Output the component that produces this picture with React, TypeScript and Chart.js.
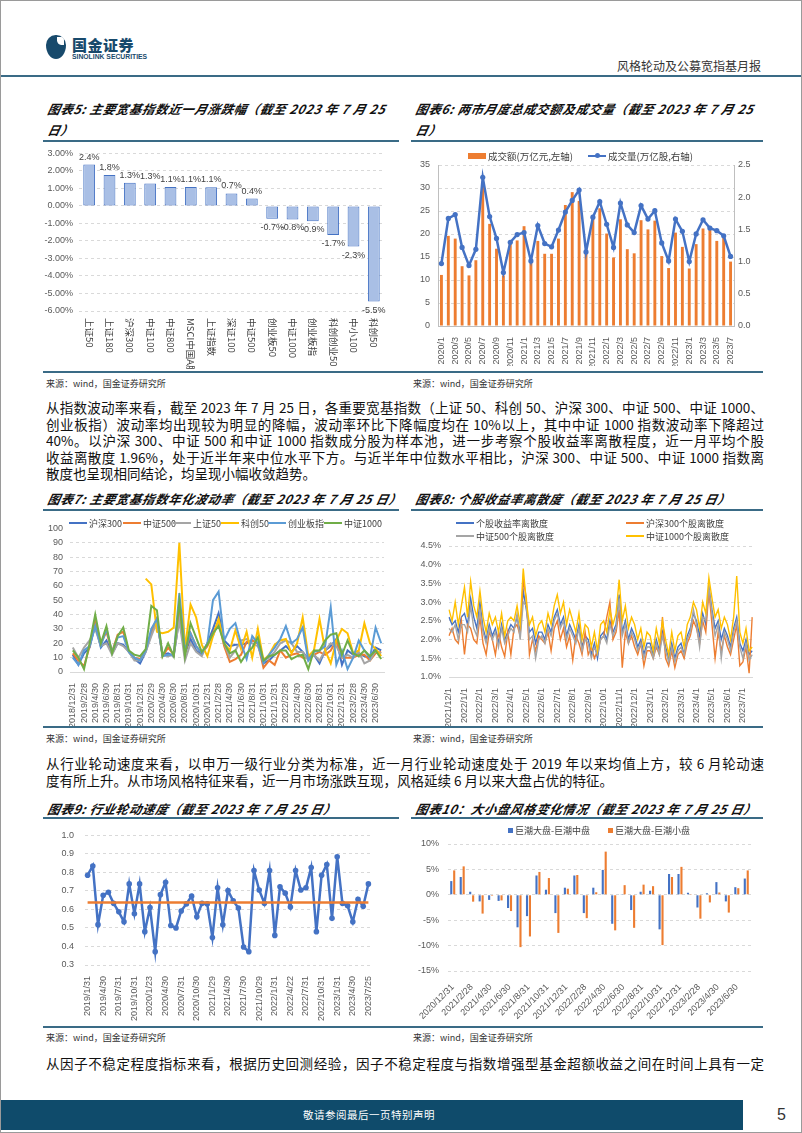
import React, { useEffect, useRef } from 'react';
import { Chart, registerables } from 'chart.js';

Chart.register(...registerables);

const SANS = '"Noto Sans CJK SC", "Liberation Sans", sans-serif';
const NUM = '"Liberation Sans", "Noto Sans CJK SC", sans-serif';
const TEAL = '#3a6b86';
const NAVY = '#184a6c';
const GRID = '#d9d9d9';
const TICK = '#595959';

Chart.defaults.font.family = NUM;
Chart.defaults.color = TICK;

// ---------------- 图表5 ----------------
const c5Categories = ['上证50', '上证180', '沪深300', '中证100', '中证800', 'MSCI中国A股', '上证指数', '深证100', '中证500', '创业板50', '中证1000', '创业板指', '科创创业50', '中小100', '科创50'];
const c5Changes = [2.36, 1.77, 1.33, 1.28, 1.08, 1.08, 1.06, 0.71, 0.42, -0.73, -0.77, -0.87, -1.66, -2.32, -5.46];

// ---------------- 图表6 ----------------
const c6Months = [
  '2020/1', '2020/2', '2020/3', '2020/4', '2020/5', '2020/6', '2020/7', '2020/8', '2020/9', '2020/10', '2020/11', '2020/12',
  '2021/1', '2021/2', '2021/3', '2021/4', '2021/5', '2021/6', '2021/7', '2021/8', '2021/9', '2021/10', '2021/11', '2021/12',
  '2022/1', '2022/2', '2022/3', '2022/4', '2022/5', '2022/6', '2022/7', '2022/8', '2022/9', '2022/10', '2022/11', '2022/12',
  '2023/1', '2023/2', '2023/3', '2023/4', '2023/5', '2023/6', '2023/7',
];
const c6Turnover = [11.1, 19.6, 19.0, 13.0, 11.0, 14.3, 30.5, 22.2, 16.8, 11.0, 17.8, 18.6, 21.7, 13.8, 18.5, 15.7, 15.7, 19.0, 26.3, 29.1, 27.2, 15.9, 24.0, 25.6, 20.1, 14.9, 23.2, 16.7, 15.8, 23.0, 21.0, 22.9, 15.2, 12.6, 20.3, 17.2, 12.5, 17.8, 21.2, 21.0, 18.5, 19.2, 14.0];
const c6Volume = [0.97, 1.67, 1.73, 1.22, 0.94, 1.19, 2.31, 1.70, 1.36, 0.83, 1.30, 1.42, 1.45, 1.01, 1.56, 1.28, 1.23, 1.49, 1.77, 1.95, 2.11, 1.15, 1.69, 1.93, 1.58, 1.22, 1.91, 1.57, 1.45, 1.87, 1.66, 1.79, 1.29, 1.01, 1.66, 1.47, 1.00, 1.43, 1.65, 1.52, 1.48, 1.40, 1.08];

// ---------------- 图表7 ----------------
const c7Dates = [
  '2018/12/31',
  '2019/1/31', '2019/2/28', '2019/3/31', '2019/4/30', '2019/5/31', '2019/6/30', '2019/7/31', '2019/8/31', '2019/9/30', '2019/10/31', '2019/11/30', '2019/12/31',
  '2020/1/31', '2020/2/29', '2020/3/31', '2020/4/30', '2020/5/31', '2020/6/30', '2020/7/31', '2020/8/31', '2020/9/30', '2020/10/31', '2020/11/30', '2020/12/31',
  '2021/1/31', '2021/2/28', '2021/3/31', '2021/4/30', '2021/5/31', '2021/6/30', '2021/7/31', '2021/8/31', '2021/9/30', '2021/10/31', '2021/11/30', '2021/12/31',
  '2022/1/31', '2022/2/28', '2022/3/31', '2022/4/30', '2022/5/31', '2022/6/30', '2022/7/31', '2022/8/31', '2022/9/30', '2022/10/31', '2022/11/30', '2022/12/31',
  '2023/1/31', '2023/2/28', '2023/3/31', '2023/4/30', '2023/5/31', '2023/6/30', '2023/7/25',
];
const c7Hs300 = [12, 5, 13, 17, 33, 17, 22, 13, 20, 19, 14, 9, 6, 14, 27, 37, 12, 13, 11, 38, 13, 23, 15, 12, 20, 30, 41, 22, 18, 19, 19, 20, 22, 20, 6, 8, 12, 15, 18, 14, 18, 14, 9, 12, 6, 15, 18, 23, 5, 15, 12, 13, 11, 10, 17, 15];
const c7Zz500 = [13, 8, 4, 18, 36, 20, 28, 14, 26, 28, 14, 10, 9, 15, 28, 37, 11, 17, 12, 45, 13, 27, 18, 13, 18, 27, 35, 18, 7, 9, 12, 21, 22, 20, 3, 8, 5, 15, 10, 12, 13, 10, 10, 12, 14, 12, 15, 22, 10, 10, 10, 12, 12, 8, 13, 14];
const c7Sz50 = [17, 10, 17, 22, 30, 18, 20, 12, 20, 18, 14, 8, 8, 14, 25, 35, 12, 11, 12, 36, 8, 20, 14, 11, 20, 25, 35, 20, 10, 15, 22, 23, 20, 18, 8, 10, 14, 20, 22, 20, 14, 14, 8, 12, 8, 15, 20, 18, 10, 12, 10, 14, 6, 8, 15, 13];
const c7Kc50 = [null, null, null, null, null, null, null, null, null, null, null, null, null,
  65, 61, 28, 27, 28, 31, 90, 16, 47, 38, 19, 11, 25, 37, 20, 15, 29, 16, 28, 10, 30, 8, 12, 19, 22, 23, 13, 20, 38, 11, 15, 37, 15, 6, 22, 30, 27, 13, 15, 34, 20, 16, 11];
const c7Cyb = [10, 5, 15, 18, 32, 18, 30, 14, 24, 25, 14, 10, 8, 15, 30, 37, 11, 12, 12, 55, 15, 27, 18, 13, 20, 50, 56, 22, 30, 34, 20, 9, 25, 20, 6, 12, 17, 23, 32, 20, 23, 31, 8, 14, 15, 18, 45, 5, 15, 2, 10, 22, 15, 10, 31, 20];
const c7Zz1000 = [15, 10, 2, 20, 40, 20, 32, 13, 25, 31, 15, 12, 11, 16, 46, 43, 11, 20, 11, 49, 11, 34, 24, 14, 19, 27, 32, 20, 13, 15, 7, 13, 17, 24, 8, 11, 12, 15, 15, 9, 11, 12, 2, 15, 15, 22, 26, 27, 12, 22, 13, 11, 15, 11, 15, 9];
const c7Names = ['沪深300', '中证500', '上证50', '科创50', '创业板指', '中证1000'];
const c7Colors = ['#4472c4', '#ed7d31', '#a5a5a5', '#ffc000', '#5b9bd5', '#70ad47'];

// ---------------- 图表8 ----------------
const c8MonthTicks = ['2021/12/1', '2022/1/1', '2022/2/1', '2022/3/1', '2022/4/1', '2022/5/1', '2022/6/1', '2022/7/1', '2022/8/1', '2022/9/1', '2022/10/1', '2022/11/1', '2022/12/1', '2023/1/1', '2023/2/1', '2023/3/1', '2023/4/1', '2023/5/1', '2023/6/1', '2023/7/1'];
const c8SamplesPerMonth = [5, 5, 5, 5, 5, 5, 5, 5, 5, 5, 5, 5, 5, 5, 5, 5, 5, 5, 5, 4];
const c8All = [
  2.6, 2.4, 2.5, 2.2, 2.6, 2.7, 2.4, 3.1, 2.6, 2.3, 3.0, 2.3, 2.0, 2.4, 2.1, 2.3, 1.9, 2.4, 2.0, 2.2,
  2.4, 2.3, 2.6, 2.2, 3.3, 2.8, 2.2, 2.3, 1.9, 2.2, 2.2, 2.0, 2.4, 2.2, 2.6, 2.8, 2.4, 2.6, 2.1, 2.4,
  2.2, 2.0, 2.4, 1.8, 2.1, 2.0, 1.6, 1.9, 1.5, 2.1, 2.2, 2.0, 2.5, 2.2, 2.4, 3.2, 2.2, 2.5, 2.0, 2.3,
  2.1, 1.8, 2.0, 1.6, 1.9, 1.9, 1.6, 2.0, 1.7, 2.2, 1.8, 1.5, 1.9, 1.5, 1.8, 1.9, 1.6, 2.1, 2.3, 2.7,
  2.5, 2.1, 2.7, 2.4, 3.4, 2.8, 2.3, 2.5, 2.0, 2.3, 2.1, 1.8, 2.3, 2.6, 1.9, 1.7, 2.0, 1.6, 1.7,
];
const c8Hs300 = [
  2.1, 2.3, 2.0, 1.9, 2.5, 1.6, 2.4, 2.3, 2.0, 1.9, 2.6, 1.9, 1.6, 2.2, 2.0, 1.6, 2.2, 1.8, 1.55, 2.2,
  1.6, 2.3, 2.4, 2.1, 3.6, 3.1, 1.6, 2.0, 1.7, 2.1, 2.0, 1.9, 2.2, 1.7, 2.3, 2.5, 2.0, 2.3, 1.8, 2.1,
  1.45, 2.1, 1.9, 1.6, 2.2, 1.6, 1.8, 1.5, 1.7, 2.0, 2.1, 2.6, 3.0, 2.0, 2.2, 2.8, 1.25, 2.2, 1.9, 2.1,
  1.8, 1.6, 1.9, 1.3, 1.7, 1.7, 1.5, 1.8, 1.6, 2.6, 1.5, 1.3, 1.7, 1.25, 1.6, 1.7, 1.5, 1.9, 2.1, 2.5,
  2.3, 1.9, 2.5, 2.2, 3.3, 2.4, 1.5, 2.2, 1.7, 2.1, 1.8, 1.6, 2.0, 2.4, 1.3, 1.4, 1.8, 1.1, 2.6,
];
const c8Zz500 = [
  2.3, 2.2, 2.4, 2.0, 2.4, 2.4, 2.2, 2.9, 2.3, 2.1, 2.8, 2.2, 1.9, 2.3, 2.0, 2.2, 1.8, 2.3, 1.9, 2.1,
  2.3, 2.2, 2.7, 2.0, 3.0, 2.9, 2.0, 2.1, 1.5, 2.0, 2.1, 1.9, 2.3, 2.1, 2.5, 2.7, 2.3, 2.5, 2.0, 2.3,
  2.1, 1.9, 2.3, 1.7, 2.0, 1.9, 1.5, 1.8, 1.6, 2.0, 2.1, 1.9, 2.4, 2.1, 2.3, 3.1, 2.1, 2.4, 1.9, 2.2,
  2.0, 1.7, 1.9, 1.5, 1.8, 1.8, 1.5, 1.9, 1.6, 2.1, 1.7, 1.4, 1.8, 1.4, 1.7, 1.8, 1.6, 2.0, 2.2, 2.8,
  2.4, 1.8, 2.6, 2.5, 3.4, 2.7, 2.1, 2.4, 1.5, 2.2, 2.0, 1.7, 2.2, 2.5, 1.8, 1.5, 1.9, 1.45, 1.6,
];
const c8Zz1000 = [
  2.8, 2.5, 3.0, 2.4, 2.9, 3.4, 2.6, 3.55, 2.9, 2.6, 3.3, 2.6, 2.2, 2.7, 2.4, 2.6, 2.2, 2.7, 2.1, 2.5,
  2.6, 2.5, 2.9, 2.4, 3.9, 3.0, 2.4, 2.6, 2.1, 2.4, 2.5, 2.2, 2.7, 2.4, 2.9, 3.2, 2.7, 3.0, 2.4, 2.8,
  2.5, 2.2, 2.7, 2.0, 2.4, 2.3, 1.8, 2.2, 1.7, 2.4, 2.5, 2.2, 2.8, 2.4, 2.7, 3.6, 2.5, 2.9, 2.3, 2.6,
  2.4, 2.0, 2.3, 1.8, 2.2, 2.1, 1.7, 2.3, 1.9, 2.5, 2.0, 1.6, 2.2, 1.7, 2.1, 2.2, 1.8, 2.4, 2.6, 3.0,
  2.8, 2.3, 3.0, 2.7, 3.65, 3.1, 2.6, 2.8, 2.3, 2.6, 2.4, 2.0, 2.6, 3.7, 2.2, 1.9, 2.3, 1.7, 1.8,
];
const c8Names = ['个股收益率离散度', '沪深300个股离散度', '中证500个股离散度', '中证1000个股离散度'];
const c8Colors = ['#4472c4', '#ed7d31', '#a5a5a5', '#ffc000'];

// ---------------- 图表9 ----------------
const c9Dates = [
  '2019/1/31', '2019/2/28', '2019/3/29', '2019/4/30', '2019/5/31', '2019/6/28', '2019/7/31', '2019/8/30', '2019/9/30', '2019/10/31', '2019/11/29', '2019/12/31',
  '2020/1/23', '2020/2/28', '2020/3/31', '2020/4/30', '2020/5/29', '2020/6/30', '2020/7/31', '2020/8/31', '2020/9/30', '2020/10/30', '2020/11/30', '2020/12/31',
  '2021/1/29', '2021/2/26', '2021/3/31', '2021/4/30', '2021/5/31', '2021/6/30', '2021/7/30', '2021/8/31', '2021/9/30', '2021/10/29', '2021/11/30', '2021/12/31',
  '2022/1/31', '2022/2/28', '2022/3/31', '2022/4/22', '2022/5/31', '2022/6/30', '2022/7/31', '2022/8/31', '2022/9/30', '2022/10/31', '2022/11/30', '2022/12/30',
  '2023/1/31', '2023/2/28', '2023/3/31', '2023/4/30', '2023/5/31', '2023/6/30', '2023/7/25',
];
const c9Speed = [0.785, 0.835, 0.518, 0.677, 0.693, 0.633, 0.587, 0.533, 0.738, 0.577, 0.738, 0.48, 0.61, 0.372, 0.68, 0.747, 0.513, 0.5, 0.592, 0.63, 0.672, 0.56, 0.633, 0.63, 0.448, 0.717, 0.517, 0.702, 0.647, 0.608, 0.397, 0.372, 0.81, 0.705, 0.633, 0.81, 0.46, 0.722, 0.688, 0.613, 0.81, 0.705, 0.717, 0.827, 0.48, 0.785, 0.843, 0.552, 0.885, 0.633, 0.62, 0.533, 0.655, 0.617, 0.738];
const c9Mean = 0.638;

// ---------------- 图表10 ----------------
const c10Dates = [
  '2020/12/31', '2021/1/31', '2021/2/28', '2021/3/31', '2021/4/30', '2021/5/31', '2021/6/30', '2021/7/31', '2021/8/31', '2021/9/30', '2021/10/31', '2021/11/30', '2021/12/31',
  '2022/1/31', '2022/2/28', '2022/3/31', '2022/4/30', '2022/5/31', '2022/6/30', '2022/7/31', '2022/8/31', '2022/9/30', '2022/10/31', '2022/11/30', '2022/12/31',
  '2023/1/31', '2023/2/28', '2023/3/31', '2023/4/30', '2023/5/31', '2023/6/30', '2023/7/25',
];
const c10LargeMid = [2.7, 3.5, 0.6, -1.3, -1.0, -1.2, -2.6, -6.4, -4.2, 3.8, 1.0, -3.6, 1.4, 3.8, -3.6, 1.4, 4.9, -5.7, 0.05, -3.0, 0.6, 0.8, -6.8, 4.1, 4.1, 0.4, -2.5, 0.3, 2.5, -1.3, 1.5, 3.2];
const c10LargeSmall = [4.8, 5.6, -1.35, -3.7, -0.2, -1.1, -3.2, -10.3, -8.2, 4.5, 3.3, -7.5, 1.2, 3.9, -4.6, 0.5, 8.5, -7.0, 1.9, -6.5, 2.0, 1.7, -9.9, 3.5, 5.5, 0.05, -4.7, -1.5, 0.45, -3.5, 1.3, 4.8];

// ---------------- 文本 ----------------
const para1 = [
  '从指数波动率来看，截至 2023 年 7 月 25 日，各重要宽基指数（上证 50、科创 50、沪深 300、中证 500、中证 1000、',
  '创业板指）波动率均出现较为明显的降幅，波动率环比下降幅度均在 10%以上，其中中证 1000 指数波动率下降超过',
  '40%。以沪深 300、中证 500 和中证 1000 指数成分股为样本池，进一步考察个股收益率离散程度，近一月平均个股',
  '收益离散度 1.96%，处于近半年来中位水平下方。与近半年中位数水平相比，沪深 300、中证 500、中证 1000 指数离',
  '散度也呈现相同结论，均呈现小幅收敛趋势。',
];
const para2 = [
  '从行业轮动速度来看，以申万一级行业分类为标准，近一月行业轮动速度处于 2019 年以来均值上方，较 6 月轮动速',
  '度有所上升。从市场风格特征来看，近一月市场涨跌互现，风格延续 6 月以来大盘占优的特征。',
];
const para3 = ['从因子不稳定程度指标来看，根据历史回测经验，因子不稳定程度与指数增强型基金超额收益之间在时间上具有一定'];
const SOURCE = '来源：wind，国金证券研究所';

// ---------------- helpers ----------------
const baseOptions = (padding: any) => ({
  responsive: false,
  animation: false as const,
  devicePixelRatio: 1,
  layout: { padding },
  plugins: { legend: { display: false }, tooltip: { enabled: false } },
});

const fixW = (w: number) => (s: any) => { s.width = w; };
const fixH = (h: number) => (s: any) => { s.height = h; };

const yDashed = (o: any) => ({
  grid: { color: GRID, drawTicks: false, lineWidth: 1 },
  border: { display: false, dash: [3, 3] },
  ...o,
  ticks: { color: TICK, font: { size: 9, family: NUM }, padding: 7, ...(o.ticks || {}) },
});

const xDates = (labels: string[], every: number, h: number, rot: number, extra: any = {}) => ({
  grid: { display: false },
  border: { display: false },
  afterFit: fixH(h),
  ...extra,
  ticks: {
    autoSkip: false,
    minRotation: rot,
    maxRotation: rot,
    padding: 3,
    color: TICK,
    font: { size: 9, family: NUM },
    callback: (_v: any, i: number) => (i % every === 0 ? labels[i] : ''),
  },
});

function ChartBox({ x, y, w, h, config }: { x: number; y: number; w: number; h: number; config: () => any }) {
  const ref = useRef<HTMLCanvasElement | null>(null);
  useEffect(() => {
    if (!ref.current) return;
    const chart = new Chart(ref.current, config());
    return () => chart.destroy();
  }, []);
  return (
    <div style={{ position: 'absolute', left: x, top: y, width: w, height: h, overflow: 'hidden' }}>
      <canvas ref={ref} width={w} height={h} style={{ display: 'block', width: w, height: h }} />
    </div>
  );
}

// ---------------- chart configs ----------------
const c5Plugin = {
  id: 'c5labels',
  afterDatasetsDraw(chart: any) {
    const ctx = chart.ctx;
    const meta = chart.getDatasetMeta(0);
    const vals = chart.data.datasets[0].data as number[];
    ctx.save();
    ctx.font = `9px ${NUM}`;
    ctx.fillStyle = '#404040';
    ctx.textAlign = 'center';
    meta.data.forEach((bar: any, i: number) => {
      const v = vals[i];
      const t = v.toFixed(1) + '%';
      if (v >= 0) {
        ctx.textBaseline = 'bottom';
        ctx.fillText(t, bar.x, bar.y - 3);
      } else {
        ctx.textBaseline = 'top';
        ctx.fillText(t, bar.x, bar.y + 4);
      }
    });
    const xs = chart.scales.x;
    ctx.font = `9.5px ${SANS}`;
    ctx.fillStyle = '#404040';
    ctx.textAlign = 'left';
    ctx.textBaseline = 'middle';
    (chart.data.labels as string[]).forEach((lab, i) => {
      const px = xs.getPixelForValue(i);
      ctx.save();
      ctx.translate(px, chart.chartArea.bottom + 7);
      ctx.rotate(Math.PI / 2);
      ctx.fillText(lab, 0, 0);
      ctx.restore();
    });
    ctx.restore();
  },
};

const c5Config = () => ({
  type: 'bar',
  data: {
    labels: c5Categories,
    datasets: [{
      data: c5Changes,
      backgroundColor: '#a9bfe5',
      borderColor: '#4472c4',
      borderWidth: 1,
      borderSkipped: false,
      barPercentage: 0.58,
      categoryPercentage: 1,
    }],
  },
  options: {
    ...baseOptions({ top: 7, right: 15, left: 0, bottom: 0 }),
    scales: {
      x: { grid: { display: false }, border: { display: false }, ticks: { display: false }, afterFit: fixH(58) },
      y: yDashed({
        min: -6, max: 3, afterFit: fixW(36),
        ticks: { stepSize: 1, padding: 6, callback: (v: any) => Number(v).toFixed(2) + '%' },
      }),
    },
  },
  plugins: [c5Plugin],
});

const c6Config = () => ({
  type: 'bar',
  data: {
    labels: c6Months,
    datasets: [
      {
        type: 'line', label: '成交量(万亿股,右轴)', data: c6Volume, yAxisID: 'y1',
        borderColor: '#4472c4', backgroundColor: '#4472c4', borderWidth: 2.5,
        pointRadius: 2.6, pointBorderWidth: 0, pointBackgroundColor: '#4472c4', tension: 0, order: 0,
      },
      {
        type: 'bar', label: '成交额(万亿元,左轴)', data: c6Turnover, yAxisID: 'y',
        backgroundColor: '#ed7d31', barPercentage: 0.42, categoryPercentage: 1, order: 1,
      },
    ],
  },
  options: {
    ...baseOptions({ top: 21, right: 0, left: 0, bottom: 0 }),
    scales: {
      x: xDates(c6Months, 2, 40, 90, { offset: true, border: { display: true, color: '#bfbfbf' } }),
      y: yDashed({
        position: 'left', min: 0, max: 35, afterFit: fixW(32),
        border: { display: true, color: '#bfbfbf', dash: [3, 3] },
        ticks: { stepSize: 5, padding: 8 },
      }),
      y1: {
        position: 'right', min: 0, max: 2.5, afterFit: fixW(32),
        grid: { display: false, drawTicks: false },
        border: { display: true, color: '#bfbfbf' },
        ticks: { stepSize: 0.5, padding: 4, color: TICK, font: { size: 9, family: NUM }, callback: (v: any) => Number(v).toFixed(1) },
      },
    },
  },
});

const c7Config = () => {
  const series = [c7Hs300, c7Zz500, c7Sz50, c7Kc50, c7Cyb, c7Zz1000];
  return {
    type: 'line',
    data: {
      labels: c7Dates,
      datasets: series.map((d, i) => ({
        label: c7Names[i], data: d, borderColor: c7Colors[i], backgroundColor: c7Colors[i],
        borderWidth: 2, pointRadius: 0, tension: 0, spanGaps: false, order: -i,
      })),
    },
    options: {
      ...baseOptions({ top: 7, right: 15, left: 0, bottom: 0 }),
      scales: {
        x: xDates(c7Dates, 2, 54, 90, { offset: true, border: { display: true, color: GRID } }),
        y: yDashed({ min: 0, max: 100, afterFit: fixW(27), ticks: { stepSize: 10, padding: 7 } }),
      },
    },
  };
};

const c8Labels: string[] = [];
c8MonthTicks.forEach((m, i) => {
  for (let k = 0; k < c8SamplesPerMonth[i]; k++) c8Labels.push(k === 0 ? m : '');
});

const c8Config = () => {
  const series = [c8All, c8Hs300, c8Zz500, c8Zz1000];
  return {
    type: 'line',
    data: {
      labels: c8Labels,
      datasets: series.map((d, i) => ({
        label: c8Names[i], data: d, borderColor: c8Colors[i], backgroundColor: c8Colors[i],
        borderWidth: 1.4, pointRadius: 0, tension: 0, order: -i,
      })),
    },
    options: {
      ...baseOptions({ top: 30, right: 13, left: 0, bottom: 0 }),
      scales: {
        x: xDates(c8Labels, 1, 49, 90, { offset: false, border: { display: true, color: GRID } }),
        y: yDashed({ min: 1, max: 4.5, afterFit: fixW(43), ticks: { stepSize: 0.5, padding: 8, callback: (v: any) => Number(v).toFixed(1) + '%' } }),
      },
    },
  };
};

const c9Config = () => ({
  type: 'line',
  data: {
    labels: c9Dates,
    datasets: [
      {
        label: '行业轮动速度', data: c9Speed, borderColor: '#4472c4', backgroundColor: '#4472c4',
        borderWidth: 2.5, pointRadius: 2.8, pointBorderWidth: 0, pointBackgroundColor: '#4472c4', tension: 0, order: 1,
      },
      {
        label: '均值', data: c9Dates.map(() => c9Mean), borderColor: '#ed7d31',
        borderWidth: 2.5, pointRadius: 0, tension: 0, order: 0,
      },
    ],
  },
  options: {
    ...baseOptions({ top: 8, right: 28, left: 0, bottom: 0 }),
    scales: {
      x: xDates(c9Dates, 3, 60, 90, { offset: true, border: { display: false } }),
      y: yDashed({ min: 0.3, max: 1.0, afterFit: fixW(42), ticks: { stepSize: 0.1, padding: 11, callback: (v: any) => Number(v).toFixed(1) } }),
    },
  },
});

const c10Config = () => ({
  type: 'bar',
  data: {
    labels: c10Dates,
    datasets: [
      { label: '巨潮大盘-巨潮中盘', data: c10LargeMid, backgroundColor: '#4472c4', barPercentage: 0.72, categoryPercentage: 0.62 },
      { label: '巨潮大盘-巨潮小盘', data: c10LargeSmall, backgroundColor: '#ed7d31', barPercentage: 0.72, categoryPercentage: 0.62 },
    ],
  },
  options: {
    ...baseOptions({ top: 25, right: 15, left: 0, bottom: 0 }),
    scales: {
      x: xDates(c10Dates, 2, 54, 45, { offset: true }),
      y: yDashed({ min: -15, max: 10, afterFit: fixW(42), ticks: { stepSize: 5, padding: 9, callback: (v: any) => `${v}%` } }),
    },
  },
});

// ---------------- layout pieces ----------------
function Text({ x, y, size, children, style }: any) {
  const lh = Math.round(size * 1.35);
  return (
    <div style={{ position: 'absolute', left: x, top: y - lh / 2, fontSize: size, lineHeight: `${lh}px`, whiteSpace: 'nowrap', fontFamily: SANS, ...(style || {}) }}>
      {children}
    </div>
  );
}

function Title({ x, y, children }: any) {
  return (
    <Text x={x} y={y} size={12.5} style={{ fontWeight: 700, fontStyle: 'italic', letterSpacing: '0.6px', color: '#111', transform: 'skewX(-12deg)', transformOrigin: 'left bottom' }}>
      {children}
    </Text>
  );
}

function Rule({ x, y, w, h = 1.5, color = TEAL }: any) {
  return <div style={{ position: 'absolute', left: x, top: y, width: w, height: h, background: color }} />;
}

function JLine({ y, text, last }: any) {
  return (
    <div style={{
      position: 'absolute', left: 45, width: 718, top: y - 9, height: 18, lineHeight: '18px',
      fontSize: 13.5, fontFamily: SANS, color: '#111', textAlign: 'justify',
      textAlignLast: last ? 'left' : 'justify', overflow: 'hidden',
    } as any}>
      {text}
    </div>
  );
}

function LegendItem({ x, y, color, label, kind, size = 9 }: any) {
  let sw: any;
  if (kind === 'rect') sw = <div style={{ width: 18, height: 6, background: color }} />;
  else if (kind === 'square') sw = <div style={{ width: 5, height: 5, background: color }} />;
  else if (kind === 'dot') {
    sw = (
      <div style={{ position: 'relative', width: 18, height: 2.5, background: color }}>
        <div style={{ position: 'absolute', left: 6.5, top: -1.75, width: 5, height: 5, borderRadius: '50%', background: color }} />
      </div>
    );
  } else sw = <div style={{ width: 18, height: 2, background: color }} />;
  return (
    <div style={{ position: 'absolute', left: x, top: y - 7, height: 14, display: 'flex', alignItems: 'center', whiteSpace: 'nowrap', fontFamily: SANS, fontSize: size, color: '#404040' }}>
      {sw}
      <span style={{ marginLeft: 2 }}>{label}</span>
    </div>
  );
}

function Logo() {
  return (
    <>
      <div style={{ position: 'absolute', left: 45, top: 34, width: 20, height: 24, background: NAVY, borderRadius: '48% 48% 50% 50% / 42% 42% 58% 58%' }} />
      <div style={{ position: 'absolute', left: 56, top: 36, width: 7, height: 8, background: '#fff', borderRadius: '0 40% 0 60%' }} />
      <Text x={71} y={44} size={15} style={{ fontWeight: 900, color: NAVY, letterSpacing: '0.5px' }}>国金证券</Text>
      <Text x={71} y={55} size={6.8} style={{ fontFamily: NUM, fontWeight: 700, color: NAVY }}>SINOLINK SECURITIES</Text>
    </>
  );
}

export default function App() {
  return (
    <div style={{ position: 'absolute', left: 0, top: 0, width: 802, height: 1133, background: '#fff', boxSizing: 'border-box', border: '1px solid #9a9a9a', overflow: 'hidden', color: '#111' }}>
      <Logo />
      <Text x={616} y={65} size={12} style={{ color: '#333' }}>风格轮动及公募宽指基月报</Text>
      <Rule x={0} y={74} w={802} h={1.5} />

      {/* 图表5 / 图表6 */}
      <Title x={45} y={107}>图表5: 主要宽基指数近一月涨跌幅（截至 2023 年 7 月 25</Title>
      <Title x={45} y={128}>日）</Title>
      <Title x={413} y={107}>图表6: 两市月度总成交额及成交量（截至 2023 年 7 月 25</Title>
      <Title x={413} y={128}>日）</Title>
      <Rule x={42} y={139} w={356} />
      <Rule x={410} y={139} w={352} />
      <ChartBox x={42} y={141} w={356} h={227} config={c5Config} />
      <ChartBox x={405} y={143} w={360} h={222} config={c6Config} />
      <LegendItem x={467} y={155} color="#ed7d31" kind="rect" label="成交额(万亿元,左轴)" size={9.5} />
      <LegendItem x={587} y={155} color="#4472c4" kind="dot" label="成交量(万亿股,右轴)" size={9.5} />
      <Rule x={42} y={370} w={720} />
      <Text x={45} y={383} size={9} style={{ color: '#333' }}>{SOURCE}</Text>
      <Text x={412} y={383} size={9} style={{ color: '#333' }}>{SOURCE}</Text>

      {para1.map((t, i) => <JLine key={i} y={406 + i * 16.5} text={t} last={i === para1.length - 1} />)}

      {/* 图表7 / 图表8 */}
      <Title x={45} y={497}>图表7: 主要宽基指数年化波动率（截至 2023 年 7 月 25 日）</Title>
      <Title x={413} y={497}>图表8: 个股收益率离散度（截至 2023 年 7 月 25 日）</Title>
      <Rule x={42} y={508} w={356} />
      <Rule x={410} y={508} w={352} />
      <ChartBox x={42} y={515} w={356} h={210} config={c7Config} />
      <div style={{ position: 'absolute', left: 66, top: 516, width: 318, height: 13, background: '#fff' }} />
      {[68, 122, 172, 220, 267, 323].map((lx, i) => (
        <LegendItem key={i} x={lx} y={522} color={c7Colors[i]} kind="line" label={c7Names[i]} />
      ))}
      <ChartBox x={405} y={515} w={360} h={210} config={c8Config} />
      {[[455, 522], [625, 522], [455, 535], [625, 535]].map(([lx, ly], i) => (
        <LegendItem key={i} x={lx} y={ly} color={c8Colors[i]} kind="line" label={c8Names[i]} />
      ))}
      <Rule x={42} y={725} w={720} />
      <Text x={45} y={738} size={9} style={{ color: '#333' }}>{SOURCE}</Text>
      <Text x={412} y={738} size={9} style={{ color: '#333' }}>{SOURCE}</Text>

      {para2.map((t, i) => <JLine key={i} y={762 + i * 16.5} text={t} last={i === para2.length - 1} />)}

      {/* 图表9 / 图表10 */}
      <Title x={45} y={807}>图表9: 行业轮动速度（截至 2023 年 7 月 25 日）</Title>
      <Title x={413} y={807}>图表10：大小盘风格变化情况（截至 2023 年 7 月 25 日）</Title>
      <Rule x={42} y={816} w={356} />
      <Rule x={410} y={816} w={352} />
      <ChartBox x={42} y={818} w={356} h={206} config={c9Config} />
      <ChartBox x={405} y={818} w={360} h={206} config={c10Config} />
      <LegendItem x={507} y={829} color="#4472c4" kind="square" label="巨潮大盘-巨潮中盘" />
      <LegendItem x={607} y={829} color="#ed7d31" kind="square" label="巨潮大盘-巨潮小盘" />
      <Rule x={42} y={1025} w={720} />
      <Text x={45} y={1037} size={9} style={{ color: '#333' }}>{SOURCE}</Text>
      <Text x={412} y={1037} size={9} style={{ color: '#333' }}>{SOURCE}</Text>

      {para3.map((t, i) => <JLine key={i} y={1062} text={t} last={false} />)}

      {/* footer */}
      <div style={{ position: 'absolute', left: 0, top: 1099, width: 742, height: 30, background: '#0f4b6b' }} />
      <Text x={0} y={1114} size={10.5} style={{ width: 736, textAlign: 'center', color: '#fff', letterSpacing: '0.5px' }}>敬请参阅最后一页特别声明</Text>
      <Text x={776} y={1114} size={16} style={{ fontFamily: NUM, color: '#333' }}>5</Text>
    </div>
  );
}
